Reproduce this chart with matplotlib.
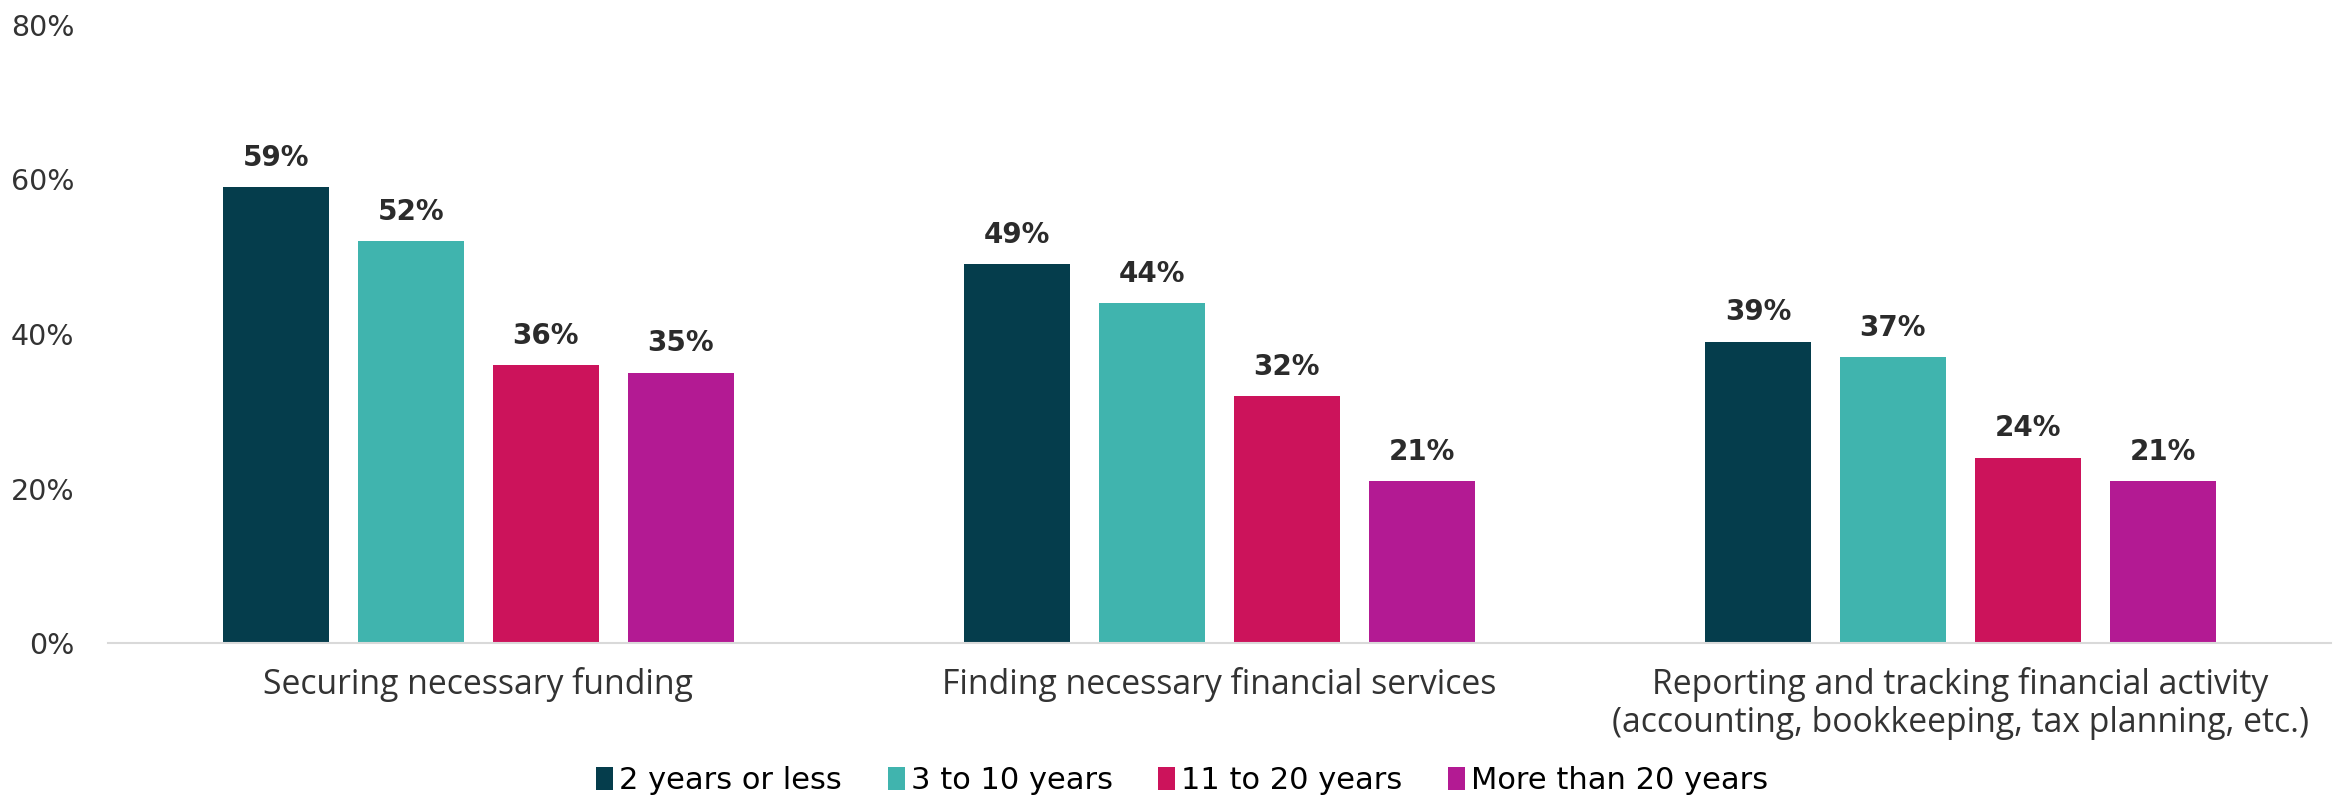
import numpy as np
import matplotlib.pyplot as plt
from matplotlib.ticker import MultipleLocator, FuncFormatter

categories = ['Securing necessary funding',
              'Finding necessary financial services',
              'Reporting and tracking financial activity\n'
              '(accounting, bookkeeping, tax planning, etc.)']
series = ['2 years or less', '3 to 10 years', '11 to 20 years',
          'More than 20 years']
values = [
    [59, 49, 39],
    [52, 44, 37],
    [36, 32, 24],
    [35, 21, 21],
]
colors = ['#053D4C', '#40B4AE', '#CC135B', '#B31A93']

fig = plt.figure(figsize=(23.46, 8.02), dpi=100)
ax = fig.add_axes([0.046, 0.198, 0.9475, 0.771])

x = np.arange(len(categories))
width = 0.143
step = 0.182

for i, (name, vals) in enumerate(zip(series, values)):
    pos = x + (i - 1.5) * step
    bars = ax.bar(pos, vals, width, color=colors[i], label=name)
    for b, v in zip(bars, vals):
        ax.annotate(f'{v}%', (b.get_x() + b.get_width() / 2, v),
                    xytext=(0, 11), textcoords='offset points',
                    ha='center', va='bottom', fontsize=20,
                    fontweight='bold', color='#2b2b2b',
                    family=['DejaVu Sans'])

ax.set_xlim(-0.5, 2.5)
ax.set_ylim(0, 80)
ax.yaxis.set_major_locator(MultipleLocator(20))
ax.yaxis.set_major_formatter(FuncFormatter(lambda v, p: f'{v:.0f}%'))

ax.set_xticks(x)
ax.set_xticklabels(categories, fontsize=24.3, color='#333333',
                   family=['Open Sans', 'DejaVu Sans'], linespacing=1.17)
for lab in ax.get_yticklabels():
    lab.set_fontsize(20.5)
    lab.set_color('#333333')
    lab.set_family(['DejaVu Sans'])
ax.tick_params(axis='y', length=0, pad=24)
ax.tick_params(axis='x', length=0, pad=17)

for s in ['top', 'right', 'left']:
    ax.spines[s].set_visible(False)
ax.spines['bottom'].set_color('#d9d9d9')
ax.spines['bottom'].set_linewidth(1.5)

fig.legend(loc='center', bbox_to_anchor=(0.504, 0.027), ncol=4,
           frameon=False, handlelength=0.55, handleheight=0.8,
           handletextpad=0.2, columnspacing=1.5,
           prop={'family': ['DejaVu Sans'], 'size': 22})

fig.savefig('out.png', dpi=100)
